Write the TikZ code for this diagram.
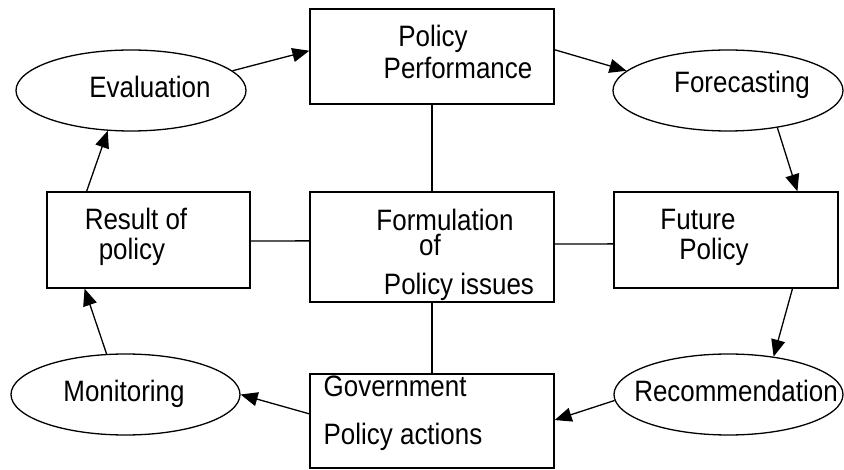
\documentclass[tikz,border=0pt]{standalone}
\usepackage{fontspec}
\setmainfont{Liberation Sans}
\usetikzlibrary{shapes.geometric,arrows.meta,calc}
\newcommand{\narrowtxt}[1]{\scalebox{0.88}[1]{#1}}
\begin{document}
\begin{tikzpicture}[x=1pt,y=-1pt,line width=1.3pt,
  box/.style args={#1x#2}{draw,rectangle,inner sep=0pt,minimum width=#1pt,minimum height=#2pt},
  oval/.style={draw,ellipse,inner sep=0pt,minimum width=230pt,minimum height=81pt},
  lbl/.style={anchor=base,inner sep=0pt,font=\fontsize{29.5}{34}\selectfont},
  arr/.style={-{Triangle[length=17pt,width=14pt]}},
  link/.style={}]
\useasboundingbox (0,0) rectangle (844,470);
% boxes
\node[box=244x95]  (pp)   at (432,56.5) {};
\node[box=244x110] (form) at (432,247) {};
\node[box=203x96]  (res)  at (148.5,240) {};
\node[box=224x96]  (fut)  at (726,240) {};
\node[box=244x94]  (gov)  at (432,421) {};
% ellipses
\node[oval] (ev)  at (131,90.5) {};
\node[oval] (fc)  at (728,90.5) {};
\node[oval,minimum width=229pt] (mon) at (125.5,394.5) {};
\node[oval,minimum width=229pt] (rec) at (728.5,394.5) {};
% texts
\node[lbl] (tev)   at (150,98)  {\narrowtxt{Evaluation}};
\node[lbl] (tpp1)  at (433,46.5){\narrowtxt{Policy}};
\node[lbl] (tpp2)  at (458,79)  {\narrowtxt{Performance}};
\node[lbl] (tfc)   at (742,93)  {\narrowtxt{Forecasting}};
\node[lbl] (tres1) at (136,230) {\narrowtxt{Result of}};
\node[lbl] (tres2) at (132,260) {\narrowtxt{policy}};
\node[lbl] (tf1)   at (445,231) {\narrowtxt{Formulation}};
\node[lbl] (tf2)   at (430,256) {\narrowtxt{of}};
\node[lbl] (tf3)   at (459,295) {\narrowtxt{Policy issues}};
\node[lbl] (tfu1)  at (698,230) {\narrowtxt{Future}};
\node[lbl] (tfu2)  at (714,260) {\narrowtxt{Policy}};
\node[lbl,anchor=base west] (tg1) at (323,397) {\narrowtxt{Government}};
\node[lbl,anchor=base west] (tg2) at (323,444) {\narrowtxt{Policy actions}};
\node[lbl] (tmon)  at (124,402) {\narrowtxt{Monitoring}};
\node[lbl] (trec)  at (736,402) {\narrowtxt{Recommendation}};
% plain links
\draw[link] (pp.south) -- (form.north);
\draw[link] (form.south) -- (gov.north);
\draw[link] ($(res.north east)!0.51!(res.south east)$) -- ($(form.north west)!0.445!(form.south west)$);
\draw[link] ($(form.north east)!0.473!(form.south east)$) -- ($(fut.north west)!0.54!(fut.south west)$);
% arrows
\draw[arr] (ev.11) -- ($(pp.north west)!0.44!(pp.south west)$);
\draw[arr] ($(pp.north east)!0.43!(pp.south east)$) -- (fc.169);
\draw[arr] (fc.-37.5) -- ($(fut.north west)!0.817!(fut.north east)$);
\draw[arr] ($(fut.south west)!0.795!(fut.south east)$) -- (rec.40.5);
\draw[arr] (rec.183) -- ($(gov.north east)!0.49!(gov.south east)$);
\draw[arr] ($(gov.north west)!0.425!(gov.south west)$) -- (mon.0);
\draw[arr] (mon.115) -- ($(res.south west)!0.187!(res.south east)$);
\draw[arr] ($(res.north west)!0.197!(res.north east)$) -- (ev.-120);
\end{tikzpicture}
\end{document}
